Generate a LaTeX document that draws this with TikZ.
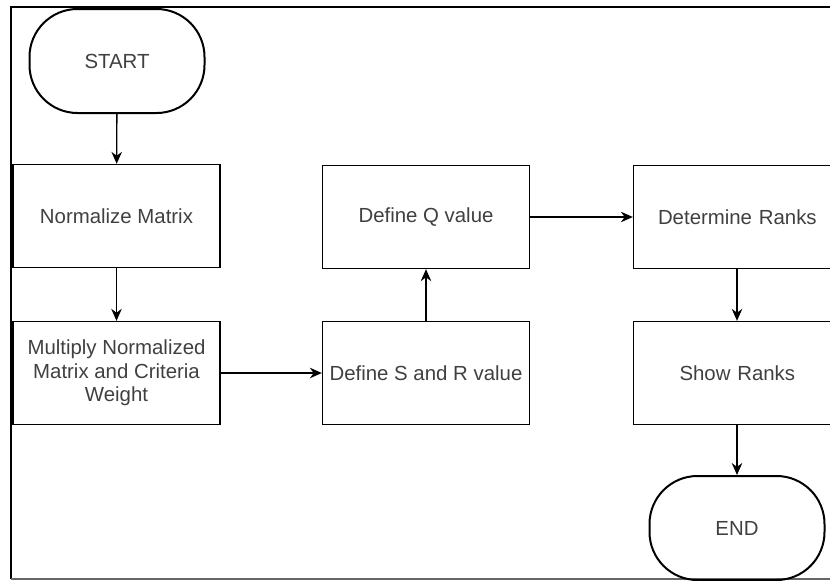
\documentclass[tikz,border=0pt]{standalone}
\usepackage{fontspec}
\setmainfont{Liberation Sans}
\usetikzlibrary{arrows.meta}
\tikzset{
	flowbox/.style={draw, line width=1.3pt, minimum width=207pt, minimum height=103pt, inner sep=2pt, align=center, text=black!75, font=\fontsize{20.4}{23.5}\selectfont},
	widebox/.style={flowbox, minimum width=260pt, text width=240pt, align=left},
	terminal/.style={flowbox, rounded corners=48pt, line width=2pt, minimum width=175pt, minimum height=104pt},
	flowarrow/.style={line width=1.4pt, -{Stealth[length=12pt,width=10.5pt]}}
}

\begin{document}
\begin{tikzpicture}[x=1pt, y=-1pt]
			%%%%% START %%%%%
			\useasboundingbox (0, 0) rectangle (830, 581);
			\clip (0, 0) rectangle (830, 581);
			
			% frame
			\draw[line width=2pt] (11, 579) -- (11, 7) -- (840, 7);
			\draw[line width=1.2pt, color=black!60] (11, 579) -- (840, 579);
			
			% left column
			\node[terminal] (start) at (117, 61) {START};
			\node[flowbox] (normalize) at (116.5, 216) {Normalize Matrix};
			\node[flowbox] (multiply) at (116.5, 373) {Multiply Normalized\\Matrix and Criteria\\Weight};
			
			% middle column
			\node[flowbox] (sr) at (426, 373) {Define S and R value};
			\node[flowbox] (qvalue) at (426, 217) {Define Q value};
			
			% right column, runs off the page
			\node[widebox] (determine) at (763.5, 217) {\hspace*{14.5pt}Determine Ranks};
			\node[widebox] (show) at (763.5, 373) {\hspace*{36pt}Show Ranks};
			\node[terminal] (end) at (737, 528) {END};
			
			% connectors
			\draw[flowarrow] (start) -- (normalize);
			\draw[flowarrow] (normalize) -- (multiply);
			\draw[flowarrow] (multiply) -- (sr);
			\draw[flowarrow] (sr) -- (qvalue);
			\draw[flowarrow] (qvalue) -- (determine);
			\draw[flowarrow] (determine.south -| end) -- (show.north -| end);
			\draw[flowarrow] (show.south -| end) -- (end);
			
			%%%%% END %%%%%
\end{tikzpicture}
\end{document}
